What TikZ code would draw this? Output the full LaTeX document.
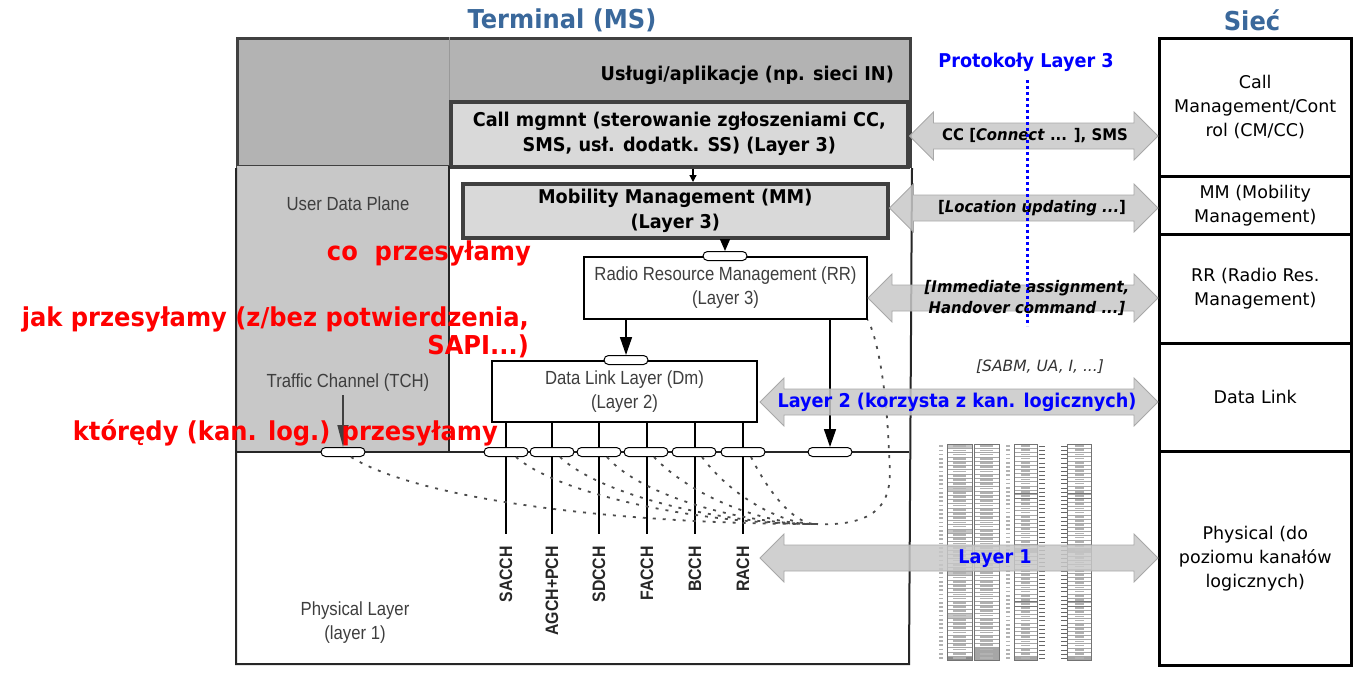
\documentclass[tikz,border=0pt]{standalone}
\usepackage{fontspec}
\setmainfont{DejaVu Sans}
\newfontfamily\tahfont[FakeStretch=0.93]{DejaVu Sans}
\newfontfamily\arifont[FakeStretch=0.88]{Liberation Sans}
\usetikzlibrary{arrows.meta,shapes.misc}

\definecolor{headblue}{RGB}{58,104,155}
\definecolor{frame}{RGB}{64,64,64}
\definecolor{servgray}{RGB}{179,179,179}
\definecolor{l3gray}{RGB}{217,217,217}
\definecolor{udpgray}{RGB}{200,200,200}
\definecolor{txtgray}{RGB}{62,62,62}
\definecolor{arrfill}{RGB}{200,200,200}
\definecolor{arrline}{RGB}{168,168,168}
\definecolor{notered}{RGB}{255,0,0}
\definecolor{noteblue}{RGB}{0,0,255}

% fat grey two-headed arrow between two named tips (left, right)
\newcommand\garrow[2]{%
  \filldraw[garr] (#1) -- ([shift={(24pt,24pt)}]#1) -- ([shift={(24pt,13pt)}]#1)
    -- ([shift={(-24pt,13pt)}]#2) -- ([shift={(-24pt,24pt)}]#2) -- (#2)
    -- ([shift={(-24pt,-24pt)}]#2) -- ([shift={(-24pt,-13pt)}]#2)
    -- ([shift={(24pt,-13pt)}]#1) -- ([shift={(24pt,-24pt)}]#1) -- cycle;}

\begin{document}
\begin{tikzpicture}[x=1pt,y=-1pt,
  ttl/.style     = {text=headblue, font=\tahfont\bfseries\fontsize{26}{30}\selectfont},
  servbox/.style = {draw=frame, line width=3pt, fill=servgray, anchor=north west, inner sep=0pt},
  l3box/.style   = {draw=frame, line width=3.5pt, fill=l3gray, anchor=north west, inner sep=0pt,
                    align=center, font=\tahfont\bfseries\fontsize{19}{25}\selectfont},
  lowbox/.style  = {draw=black, line width=2pt, fill=white, anchor=north west, inner sep=0pt,
                    align=center, text=txtgray, font=\arifont\fontsize{19}{24}\selectfont},
  netbox/.style  = {draw=black, line width=2.5pt, anchor=north west, inner sep=0pt,
                    minimum width=192pt, align=center, font=\fontsize{17.5}{24}\selectfont},
  oval/.style    = {rounded rectangle, draw=black, line width=1pt, fill=white,
                    minimum width=44pt, minimum height=9pt, inner sep=0pt},
  gtxt/.style    = {text=txtgray, align=center, font=\arifont\fontsize{19}{24}\selectfont},
  chan/.style    = {rotate=90, anchor=east, inner sep=0pt, text=black!85,
                    font=\arifont\bfseries\fontsize{18}{20}\selectfont},
  note/.style    = {text=notered, inner sep=0pt, font=\tahfont\bfseries\fontsize{26}{28}\selectfont},
  proto/.style   = {text=noteblue, inner sep=0pt, font=\tahfont\bfseries\fontsize{19}{24}\selectfont},
  msg/.style     = {inner sep=0pt, align=center, font=\tahfont\bfseries\fontsize{16}{21}\selectfont},
  garr/.style    = {fill=arrfill, draw=arrline, line width=0.8pt, fill opacity=0.85},
  pdown/.style   = {line width=1.6pt, -{Triangle[length=18pt,width=12pt]}},
  chline/.style  = {line width=1.6pt},
  dots/.style    = {draw=black!70, line width=1.8pt, dash pattern=on 3pt off 7pt},
  rows/.style    = {draw=black!35, dash pattern=on 0.5pt off 3.735pt},
  rows52/.style  = {draw=black!35, dash pattern=on 0.5pt off 3.654pt},
  blur/.style    = {draw=black!30, dash pattern=on 1.7pt off 2.535pt},
  blur52/.style  = {draw=black!30, dash pattern=on 1.7pt off 2.454pt},
  col/.style     = {draw=black!55, line width=0.7pt},
]
\useasboundingbox (0,0) rectangle (1365,673);

\node[ttl] (term) at (562,20) {Terminal (MS)};
\node[ttl] (net) at (1252,20) {Sieć};

% terminal, upper part
\node[servbox, minimum width=673pt, minimum height=128pt] (serv) at (236,37) {};
\node[anchor=east, inner sep=0pt, font=\tahfont\bfseries\fontsize{19}{24}\selectfont] (servtxt) at (894,75) {Usługi/aplikacje (np. sieci IN)};
\node[l3box, minimum width=457pt, minimum height=65pt] (cm) at (449,100) {Call mgmnt (sterowanie zgłoszeniami CC,\\SMS, usł. dodatk. SS) (Layer 3)};
\draw[black!40, line width=0.8pt] (449,0 |- serv.north) -- (449,0 |- cm.north);

% terminal, lower part
\node[fill=udpgray, anchor=north west, inner sep=0pt, minimum width=212pt, minimum height=286pt] (udp) at (237,166) {};
\draw[line width=2pt, black!85] (serv.south west) -- (236,664) -- (909,664) -- (serv.south east);
\draw[line width=2pt, black!85] (udp.north east) -- (udp.south east);
\draw[line width=2pt, black!85] (236,452) -- (909,452);
\node[gtxt] (udptxt) at (348,204) {User Data Plane};
\node[gtxt] (tchtxt) at (348,383) {Traffic Channel (TCH)};
\node[gtxt] (phytxt) at (355,623) {Physical Layer\\(layer 1)};

\node[l3box, minimum width=425pt, minimum height=54pt] (mm) at (461,182) {Mobility Management (MM)\\(Layer 3)};
\node[lowbox, minimum width=283pt, minimum height=62pt] (rr) at (583,256) {Radio Resource Management (RR)\\(Layer 3)};
\node[lowbox, minimum width=265pt, minimum height=61pt] (dl) at (491,360) {Data Link Layer (Dm)\\(Layer 2)};

% logical channels
\node[chan] (sacch) at (506,546) {SACCH};
\node[chan] (agch) at (552,546) {AGCH+PCH};
\node[chan] (sdcch) at (599,546) {SDCCH};
\node[chan] (facch) at (647,546) {FACCH};
\node[chan] (bcch) at (695,546) {BCCH};
\node[chan] (rach) at (743,546) {RACH};
\draw[chline] (dl.south -| sacch.east) -- ([yshift=12pt]sacch.east);
\draw[chline] (dl.south -| agch.east) -- ([yshift=12pt]agch.east);
\draw[chline] (dl.south -| sdcch.east) -- ([yshift=12pt]sdcch.east);
\draw[chline] (dl.south -| facch.east) -- ([yshift=12pt]facch.east);
\draw[chline] (dl.south -| bcch.east) -- ([yshift=12pt]bcch.east);
\draw[chline] (dl.south -| rach.east) -- ([yshift=12pt]rach.east);

% access points
\node[oval] (rro) at (725,256) {};
\node[oval] (dlo) at (626,360) {};
\node[oval] (tcho) at (343,452) {};
\node[oval] (o1) at (506,452) {};
\node[oval] (o2) at (552,452) {};
\node[oval] (o3) at (599,452) {};
\node[oval] (o4) at (646,452) {};
\node[oval] (o5) at (694,452) {};
\node[oval] (o6) at (743,452) {};
\node[oval] (pho) at (830,452) {};

\draw[line width=1.2pt, -{Triangle[length=7pt,width=7pt]}] (693,0 |- cm.south) -- (693,0 |- mm.north);
\draw[line width=1.4pt, -{Triangle[length=12pt,width=10pt]}] (mm.south -| rro) -- (rro.north);
\draw[pdown] (rr.south -| dlo) -- (dlo.north);
\draw[pdown] (rr.south -| pho) -- (pho.north);
\draw[line width=1.5pt, black!75, -{Triangle[length=22pt,width=11pt]}] (tchtxt.south -| tcho) -- (tcho.north);

% mapping onto the physical channel
\coordinate (meet) at (815,524);
\draw[dots] ([xshift=8pt]tcho.south) .. controls (420,500) and (620,524) .. (meet);
\draw[dots] ([xshift=10pt]o1.south) .. controls (560,495) and (700,524) .. (meet);
\draw[dots] ([xshift=8pt]o2.south) .. controls (600,495) and (720,524) .. (meet);
\draw[dots] ([xshift=8pt]o3.south) .. controls (640,495) and (740,524) .. (meet);
\draw[dots] ([xshift=8pt]o4.south) .. controls (690,495) and (760,524) .. (meet);
\draw[dots] ([xshift=8pt]o5.south) .. controls (730,495) and (780,524) .. (meet);
\draw[dots] ([xshift=8pt]o6.south) .. controls (770,495) and (795,524) .. (meet);
\draw[dots] (meet) .. controls (900,528) and (890,480) .. (889,452)
  .. controls (887,400) and (880,345) .. (rr.south east);

% what / how / which way
\node[note, anchor=east] (what) at (531,253) {co\ \ przesyłamy};
\node[note, anchor=east, align=right] (how) at (529,332) {jak przesyłamy (z/bez potwierdzenia,\\SAPI...)};
\node[note, anchor=east] (where) at (498,433) {którędy (kan. log.) przesyłamy};

% network side
\node[netbox, minimum height=138pt] (ncm) at (1158,37) {Call\\Management/Cont\\rol (CM/CC)};
\node[netbox, minimum height=58pt] (nmm) at (1158,175) {MM (Mobility\\Management)};
\node[netbox, minimum height=109pt] (nrr) at (1158,233) {RR (Radio Res.\\Management)};
\node[netbox, minimum height=108pt] (ndl) at (1158,342) {Data Link};
\node[netbox, minimum height=214pt] (nph) at (1158,450) {Physical (do\\poziomu kanałów\\logicznych)};

% multiframe tables (a picture in the original): columns, row rules, greyed entries
\fill[black!22] (947,444) rectangle (972,448.2);
\fill[black!22] (947,486.4) rectangle (972,490.6);
\fill[black!22] (947,528.7) rectangle (972,532.9);
\fill[black!22] (947,571.1) rectangle (972,575.3);
\fill[black!22] (947,613.4) rectangle (972,617.6);
\fill[black!45] (947,655.8) rectangle (972,660);
\fill[black!35] (974,647.3) rectangle (999,660);
\fill[black!35] (1014,547.9) rectangle (1037,552);
\fill[black!35] (1014,655.8) rectangle (1037,660);
\fill[black!35] (1067,547.9) rectangle (1091,552);
\fill[black!35] (1067,655.8) rectangle (1091,660);
\draw[rows, line width=25pt] (959.5,444) -- (959.5,660);
\draw[rows, line width=25pt] (986.5,444) -- (986.5,660);
\draw[rows52, line width=23pt] (1025.5,444) -- (1025.5,660);
\draw[rows52, line width=24pt] (1079,444) -- (1079,660);
\draw[blur, line width=4pt] (941,445.3) -- (941,660);
\draw[blur, line width=13pt] (959.5,445.3) -- (959.5,660);
\draw[blur, line width=13pt] (986.5,445.3) -- (986.5,660);
\draw[blur52, line width=4pt] (1008,445.3) -- (1008,660);
\draw[blur52, line width=9pt] (1025.5,445.3) -- (1025.5,660);
\draw[blur52, line width=9pt] (1079,445.3) -- (1079,660);
\draw[black!60, line width=6pt, dash pattern=on 0.8pt off 3.354pt] (1042,446) -- (1042,660);
\draw[black!60, line width=6pt, dash pattern=on 0.8pt off 3.354pt] (1064,446) -- (1064,660);
\draw[col] (947,444) rectangle (972,660);
\draw[col] (974,444) rectangle (999,660);
\draw[col] (1014,444) rectangle (1037,660);
\draw[col] (1067,444) rectangle (1091,660);
\draw[col, line width=1pt] (1014,493.8) -- (1037,493.8) (1014,498) -- (1037,498);
\draw[col, line width=1pt] (1014,601.9) -- (1037,601.9) (1014,606) -- (1037,606);
\draw[col, line width=1pt] (1067,493.8) -- (1091,493.8) (1067,498) -- (1091,498);
\draw[col, line width=1pt] (1067,601.9) -- (1091,601.9) (1067,606) -- (1091,606);

% peer protocols
\coordinate (ccL) at (cm.east |- 0,136);
\coordinate (ccR) at (ncm.west |- 0,136);
\coordinate (luL) at (mm.east |- 0,208);
\coordinate (luR) at (nmm.west |- 0,208);
\coordinate (raL) at (rr.east |- 0,298);
\coordinate (raR) at (nrr.west |- 0,298);
\coordinate (l2L) at (760,402);
\coordinate (l2R) at (ndl.west |- 0,402);
\coordinate (l1L) at (760,558);
\coordinate (l1R) at (nph.west |- 0,558);
\garrow{ccL}{ccR}
\garrow{luL}{luR}
\garrow{raL}{raR}
\garrow{l2L}{l2R}
\garrow{l1L}{l1R}

\node[msg] (cctxt) at (1035,136) {CC [\textit{Connect} ... ], SMS};
\node[msg] (lutxt) at (1032,208) {[\textit{Location updating ...}]};
\node[msg] (ratxt) at (1027,298) {\textit{[Immediate assignment,}\\\textit{Handover command ...]}};
\node[font=\fontsize{15.5}{18}\selectfont\itshape, text=black!80, inner sep=0pt] (sabm) at (1040,367) {[SABM, UA, I, ...]};
\node[proto] (l2txt) at (957,402) {Layer 2 (korzysta z kan. logicznych)};
\node[proto] (l1txt) at (995,559) {Layer 1};
\node[proto] (l3txt) at (1026,62) {Protokoły Layer 3};
\coordinate (l3top) at (1027,80);
\coordinate (l3bot) at (1027,326);
\draw[noteblue, line width=3pt, dash pattern=on 3pt off 3pt] (l3top) -- (l3bot);
\end{tikzpicture}
\end{document}
